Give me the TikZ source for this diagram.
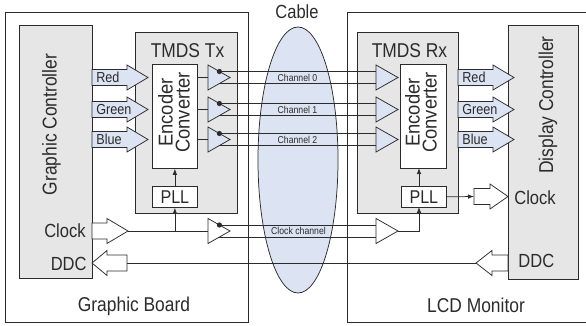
\documentclass[tikz,border=0pt]{standalone}
\usepackage{fontspec}
\setmainfont{Liberation Sans}[FakeStretch=0.87]
\newfontfamily\encfont{Liberation Sans}[FakeStretch=0.92]
\usetikzlibrary{arrows.meta}
\definecolor{ln}{HTML}{2B2B2B}
\definecolor{gfill}{HTML}{E6E6E6}
\definecolor{bfill}{HTML}{DCE3F2}
\newcommand{\fsz}[1]{\fontsize{#1}{#1}\selectfont}
% block arrow: style, tail x, head-base x, tip x, centre y
\newcommand{\rblk}[5]{\path[#1] (#2,#5-8) -- (#3,#5-8) -- (#3,#5-12.5) -- (#4,#5) -- (#3,#5+12.5) -- (#3,#5+8) -- (#2,#5+8) -- cycle;}
% driver triangle: style, left x, tip x, centre y
\newcommand{\tria}[4]{\path[#1] (#2,#4-12.5) -- (#3,#4) -- (#2,#4+12.5) -- cycle;}
\begin{document}
\begin{tikzpicture}[x=1pt,y=-1pt,line width=0.75pt,color=ln,line join=miter,
  box/.style={draw,fill=gfill,inner sep=0pt,anchor=north west},
  wbox/.style={draw,fill=white,inner sep=0pt,anchor=north west},
  blk/.style={draw,fill=bfill},
  hol/.style={draw,fill=white},
  tri/.style={draw,fill=bfill},
  wtri/.style={draw,fill=white},
  arr/.style={-{Latex[length=6pt,width=4.5pt]}},
  lbl/.style={inner sep=0pt,font=\fsz{20}},
  small/.style={inner sep=0pt,font=\fsz{10}},
  mid/.style={inner sep=0pt,font=\fsz{19}},
  sig/.style={inner sep=0pt,font=\fsz{14.5},anchor=base west}]
\useasboundingbox (0,0) rectangle (586,326);
% boards
\node[wbox,minimum width=243pt,minimum height=310pt] (gb) at (5,12) {};
\draw (586,12) -- (347,12) -- (347,322) -- (586,322);
\coordinate (lcd) at (347,12);
% cable
\draw[fill=bfill] (298,160) ellipse [x radius=40pt, y radius=133pt];
\coordinate (cab) at (298,160);
\node[lbl,anchor=base,font=\fsz{19}] (cablel) at (297,19) {Cable};
% controllers and TMDS blocks
\node[box,minimum width=73pt,minimum height=253pt] (gc) at (19,25) {};
\node[box,minimum width=70pt,minimum height=254pt] (dc) at (508,25) {};
\node[box,minimum width=102pt,minimum height=181pt] (tx) at (135,32) {};
\node[box,minimum width=101pt,minimum height=181pt] (rx) at (357,32) {};
\node[wbox,minimum width=45pt,minimum height=104pt] (enc) at (152,64) {};
\node[wbox,minimum width=46pt,minimum height=104pt] (dec) at (400,64) {};
\node[wbox,minimum width=45pt,minimum height=21pt,font=\fsz{18.5}] (pllt) at (152,186) {PLL};
\node[wbox,minimum width=45pt,minimum height=21pt,font=\fsz{18.5}] (pllr) at (401,186) {PLL};
% labels
\node[lbl,anchor=base] (txl) at (187.5,58) {TMDS Tx};
\node[lbl,anchor=base] (rxl) at (409.5,58) {TMDS Rx};
\node[lbl,anchor=base] (gbl) at (134,311) {Graphic Board};
\node[lbl,anchor=base] (lcdl) at (476,312) {LCD Monitor};
\node[lbl,anchor=base,rotate=90] (gcl) at (56.5,124.5) {Graphic Controller};
\node[lbl,anchor=base,rotate=90] (dcl) at (553,105) {Display Controller};
\node[inner sep=0pt,rotate=90,align=center,font=\encfont\fsz{20}] (encl) at (174,112.5) {Encoder\\[-3pt]Converter};
\node[inner sep=0pt,rotate=90,align=center,font=\encfont\fsz{20}] (decl) at (421,112.5) {Encoder\\[-3pt]Converter};
% data channels
\foreach \c/\k/\s in {77.5/0/Red,109.5/1/Green,139.5/2/Blue}{
  \tria{tri}{208}{230}{\c}
  \tria{tri}{376}{398}{\c}
  \coordinate (ti\k) at (208,\c);
  \coordinate (tp\k) at (219.4,\c-6);
  \coordinate (tn\k) at (219.4,\c+6);
  \coordinate (rp\k) at (376,\c-6);
  \coordinate (rn\k) at (376,\c+6);
  \draw (enc.east |- ti\k) -- (ti\k);
  \draw (tp\k) -- (rp\k);
  \draw (tn\k) -- (rn\k);
  \fill (tp\k) circle [radius=2.6pt];
  \node[small] (chl\k) at (297.5,\c) {Channel \k};
  \rblk{blk}{92}{127}{148}{\c}
  \rblk{blk}{458}{493}{514}{\c}
  \node[sig] (ts\k) at (96,\c+5.5) {\s};
  \node[sig] (rs\k) at (462,\c+5.5) {\s};
}
% clock
\rblk{hol}{92}{107}{128}{231}
\coordinate (ckt) at (128,231);
\tria{wtri}{208}{230}{231}
\tria{wtri}{376}{398}{231}
\coordinate (tci) at (208,231);
\coordinate (tcp) at (219.4,225);
\coordinate (tcn) at (219.4,237);
\coordinate (rcp) at (376,225);
\coordinate (rcn) at (376,237);
\coordinate (rco) at (398,231);
\draw (ckt) -- (tci);
\draw[arr] (pllt.south |- ckt) -- (pllt.south);
\draw[arr] (pllt.north) -- (enc.south);
\draw (tcp) -- (rcp);
\draw (tcn) -- (rcn);
\fill (tcp) circle [radius=2.6pt];
\node[small] (ckl) at (298.5,231) {Clock channel};
\coordinate (prb) at (419,207);
\coordinate (prt) at (419,186);
\coordinate (deb) at (419,168);
\draw[arr] (rco) -| (prb);
\draw[arr] (prt) -- (deb);
\coordinate (rck) at (474,196.5);
\draw[arr] (pllr.east) -- (rck);
\rblk{hol}{474}{490}{508}{196.5}
% DDC
\rblk{hol}{127}{107}{92}{263}
\rblk{hol}{508}{492}{476}{263}
\coordinate (tdd) at (127,263);
\coordinate (rdd) at (476,263);
\draw (tdd) -- (rdd);
% controller signal labels
\node[mid,anchor=base east] (tckl) at (86,237) {Clock};
\node[mid,anchor=base east] (tddl) at (87,270) {DDC};
\node[mid,anchor=base west] (rckl) at (514,204) {Clock};
\node[mid,anchor=base west] (rddl) at (518,267) {DDC};
\end{tikzpicture}
\end{document}
